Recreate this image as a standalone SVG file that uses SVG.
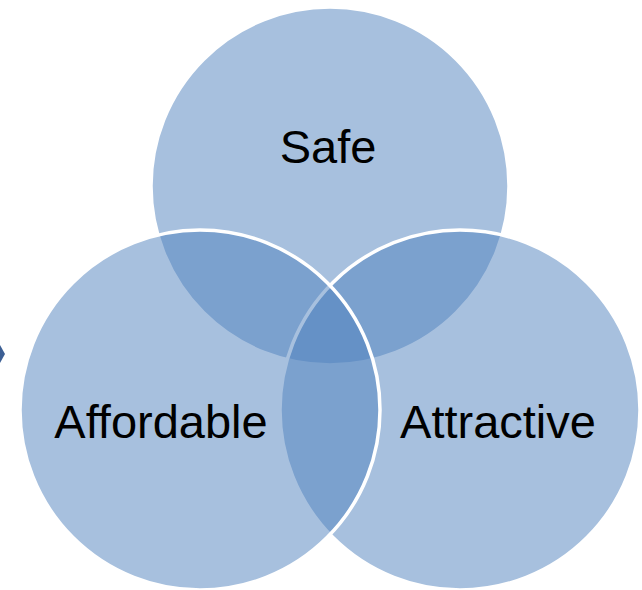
<svg xmlns="http://www.w3.org/2000/svg" width="642" height="590" viewBox="0 0 642 590">
<style>
.c{fill:#4F81BD;fill-opacity:0.5;stroke:#ffffff;stroke-width:3.5}
.t{font-family:"Liberation Sans",Arial,sans-serif;font-size:47px;fill:#000000;text-anchor:middle}
</style>
<rect width="642" height="590" fill="#ffffff"/>
<g id="edge-shape"><polygon points="0,345 5,354 0,363" fill="#3c5f94"/></g>
<g id="connectors"></g>
<g id="safe"><circle class="c" cx="330" cy="186" r="179"/><text class="t" x="328" y="163" font-size="44">Safe</text></g>
<g id="attractive"><circle class="c" cx="460" cy="410" r="180"/><text class="t" x="498" y="438">Attractive</text></g>
<g id="affordable"><circle class="c" cx="200" cy="410" r="180"/><text class="t" x="161" y="438">Affordable</text></g>
</svg>
